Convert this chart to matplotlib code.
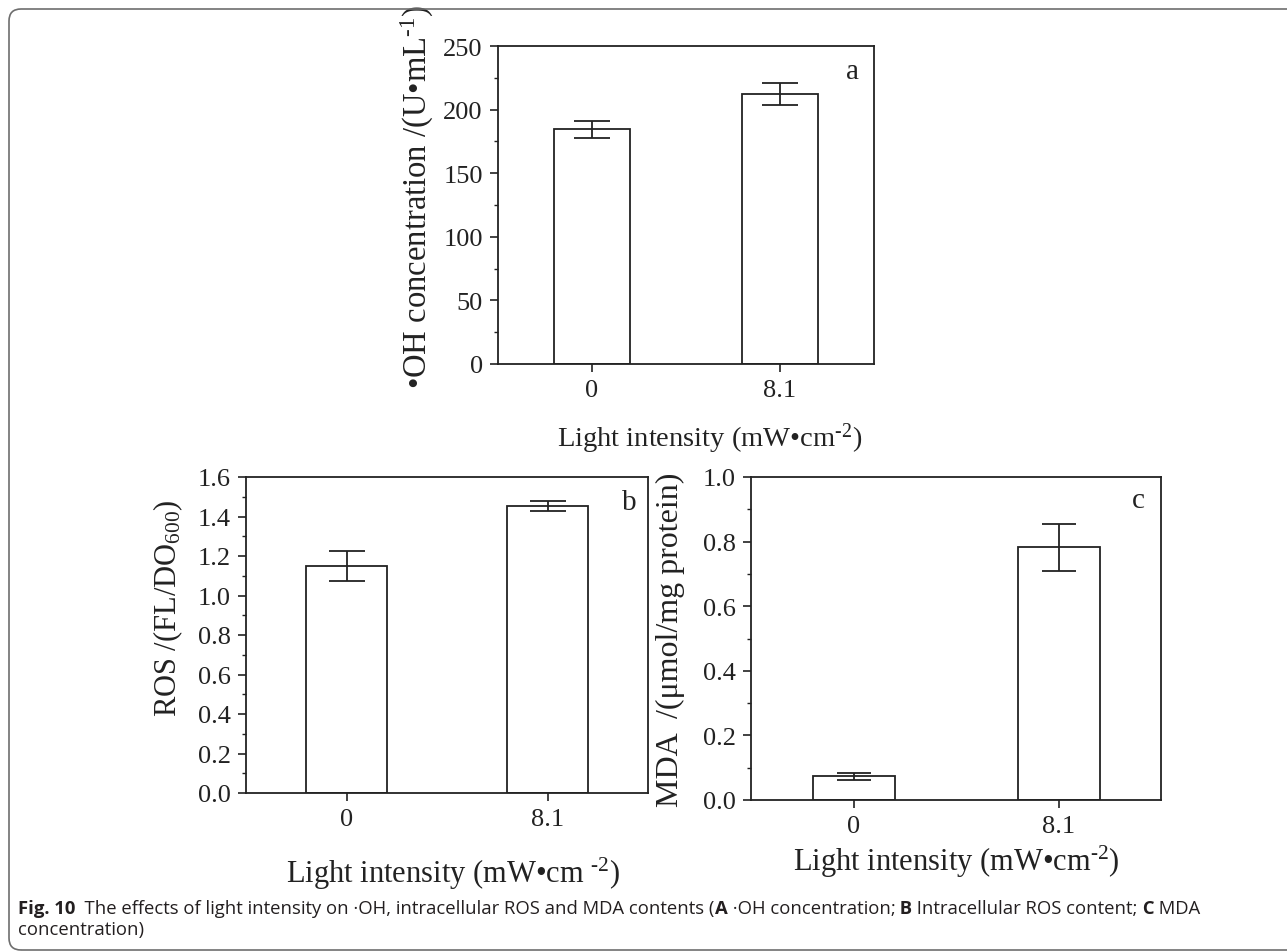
import matplotlib
matplotlib.use("Agg")
import matplotlib.pyplot as plt
from matplotlib.patches import FancyBboxPatch
from matplotlib.ticker import MultipleLocator, FormatStrFormatter
from matplotlib.transforms import IdentityTransform

# data
light = ["0", "8.1"]
oh_mean = [184.5, 212.5]
oh_err = [6.5, 8.7]
ros_mean = [1.15, 1.453]
ros_err = [0.075, 0.026]
mda_mean = [0.073, 0.782]
mda_err = [0.012, 0.073]

plt.rcParams["font.family"] = ["Liberation Serif", "DejaVu Serif"]
plt.rcParams["mathtext.fontset"] = "custom"
plt.rcParams["mathtext.rm"] = "Liberation Serif"
plt.rcParams["mathtext.it"] = "Liberation Serif:italic"
ink = "#222222"

fig = plt.figure(figsize=(12.87, 9.53), dpi=100)
W, H = 1287, 953


def px_axes(left, top, right, bottom):
    return fig.add_axes([left / W, (H - bottom) / H, (right - left) / W, (bottom - top) / H])


def panel(ax, means, errs, ymax, major, minor, letter, letter_xy, ylabel, ylab_xy, ylab_size,
          xlabel, xlab_size, labelpad, capsize=13):
    x = range(len(light))
    ax.bar(x, means, width=0.4, color="white", edgecolor=ink, linewidth=1.3, zorder=2)
    ax.errorbar(x, means, yerr=errs, fmt="none", ecolor=ink, elinewidth=1.3,
                capsize=capsize, capthick=1.3, zorder=3)
    ax.set_xlim(-0.5, 1.5)
    ax.set_ylim(0, ymax)
    ax.set_xticks(list(x))
    ax.set_xticklabels(light)
    ax.yaxis.set_major_locator(MultipleLocator(major))
    ax.yaxis.set_minor_locator(MultipleLocator(minor))
    ax.tick_params(axis="both", which="major", direction="out", length=6, width=1.2,
                   colors=ink, labelsize=19, pad=5)
    ax.tick_params(axis="y", which="minor", direction="out", length=3, width=1.0, colors=ink)
    ax.tick_params(axis="x", which="minor", bottom=False)
    for s in ax.spines.values():
        s.set_linewidth(1.3)
        s.set_color(ink)
    ax.text(letter_xy[0], letter_xy[1], letter, transform=ax.transAxes, fontsize=21,
            ha="center", va="center", color=ink)
    ax.set_ylabel(ylabel, fontsize=ylab_size, color=ink)
    ax.yaxis.set_label_coords(*ylab_xy)
    ax.set_xlabel(xlabel, fontsize=xlab_size, color=ink, labelpad=labelpad)


ax_a = px_axes(498, 47, 874, 365)
panel(ax_a, oh_mean, oh_err, 250, 50, 25, "a", (0.944, 0.92),
      "•OH concentration /(U•mL$^{\\text{-}1}$)", (-0.165, 0.53), 23.5,
      "Light intensity (mW•cm$^{\\text{-}2}$)", 20.5, 14)
ax_a.xaxis.label.set_x(0.564)

ax_b = px_axes(246, 478, 648, 794)
panel(ax_b, ros_mean, ros_err, 1.6, 0.2, 0.1, "b", (0.953, 0.92),
      "ROS /(FL/DO$_{600}$)", (-0.152, 0.589), 22,
      "Light intensity (mW•cm $^{\\text{-}2}$)", 22, 18)
ax_b.yaxis.set_major_formatter(FormatStrFormatter("%.1f"))
ax_b.xaxis.label.set_x(0.515)

ax_c = px_axes(751, 478, 1161, 801)
panel(ax_c, mda_mean, mda_err, 1.0, 0.2, 0.1, "c", (0.944, 0.93),
      "MDA  /(μmol/mg protein)", (-0.161, 0.5), 23,
      "Light intensity (mW•cm$^{\\text{-}2}$)", 22, 4, capsize=12)
ax_c.yaxis.set_major_formatter(FormatStrFormatter("%.1f"))

# caption frame with a rounded corner
frame = FancyBboxPatch((9, 2), 1400, H - 12, boxstyle="round,pad=0,rounding_size=12",
                       transform=IdentityTransform(), facecolor="none",
                       edgecolor="#6e6e6e", linewidth=1.2)
fig.patches.append(frame)

# caption: regular and bold pieces laid side by side
cap_font = ["Open Sans", "DejaVu Sans"]
cap_size = 13.3
cap_color = "#231f20"
line1 = [
    ("Fig. 10", "bold"),
    ("  The effects of light intensity on ·OH, intracellular ROS and MDA contents (", "normal"),
    ("A", "bold"),
    (" ·OH concentration;", "normal"),
    (" B", "bold"),
    (" Intracellular ROS content;", "normal"),
    (" C", "bold"),
    (" MDA", "normal"),
]
renderer = fig.canvas.get_renderer()
x_px = 18
for txt, wt in line1:
    t = fig.text(x_px / W, (H - 914) / H, txt, fontsize=cap_size, weight=wt,
                 family=cap_font, color=cap_color, va="baseline", ha="left")
    x_px = t.get_window_extent(renderer).x1
fig.text(18 / W, (H - 935) / H, "concentration)", fontsize=cap_size, family=cap_font,
         color=cap_color, va="baseline", ha="left")

fig.savefig("out.png", dpi=100)
